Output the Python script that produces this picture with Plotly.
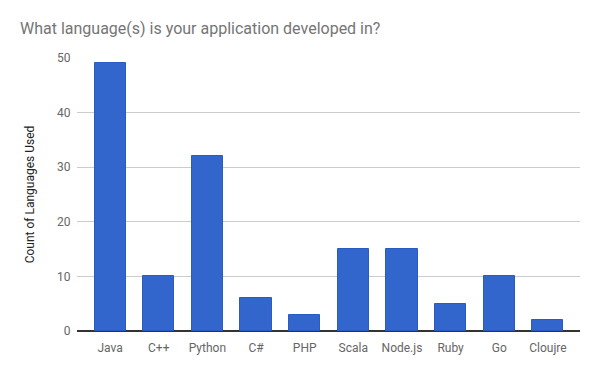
import plotly.graph_objects as go

languages = ["Java", "C++", "Python", "C#", "PHP", "Scala", "Node.js", "Ruby", "Go", "Cloujre"]
counts = [49, 10, 32, 6, 3, 15, 15, 5, 10, 2]
y_ticks = [0, 10, 20, 30, 40, 50]

fig = go.Figure(go.Bar(
    x=list(range(len(languages))), y=counts,
    marker=dict(color="#3366cc", line=dict(color="#2a5bc4", width=1)),
    width=0.64,
))

fig.update_layout(
    width=600, height=371,
    margin=dict(l=77, r=20, t=58, b=40),
    paper_bgcolor="white", plot_bgcolor="white",
    font=dict(family="Roboto, Arial, sans-serif", size=12, color="#444"),
    title=dict(text="What language(s) is your application developed in?",
               x=20/600, xanchor="left", y=1-28/371, yanchor="middle",
               font=dict(size=16, color="#757575")),
    showlegend=False,
    bargap=0,
)
fig.update_xaxes(
    range=[-0.68, 9.66], tickvals=list(range(len(languages))), ticktext=languages,
    showgrid=False, zeroline=False, showline=False,
    ticks="outside", ticklen=6, tickcolor="rgba(0,0,0,0)",
    tickfont=dict(size=12, color="#666"),
)
fig.update_yaxes(
    range=[0, 50], tickvals=y_ticks, showgrid=True, gridcolor="#cccccc",
    zeroline=True, zerolinecolor="#333", zerolinewidth=1.5,
    ticks="outside", ticklen=3, tickcolor="rgba(0,0,0,0)",
    tickfont=dict(size=12, color="#666"),
    title=dict(text="Count of Languages Used", font=dict(size=12, color="#222"), standoff=19),
)
fig.write_html("out.html", config={"displayModeBar": False})

# remove default browser body margin so the figure sits at the page origin
with open("out.html", encoding="utf-8") as f:
    html = f.read()
html = html.replace("<head>", "<head><style>html,body{margin:0;padding:0;overflow:hidden;}</style>", 1)
with open("out.html", "w", encoding="utf-8") as f:
    f.write(html)
